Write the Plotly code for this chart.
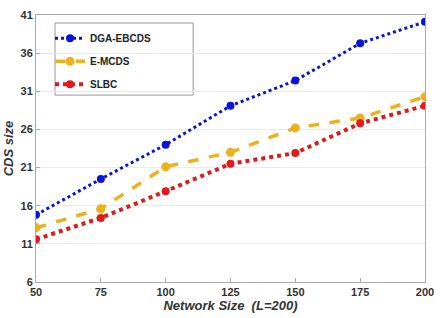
import plotly.graph_objects as go

network_size = [50, 75, 100, 125, 150, 175, 200]
dga_ebcds = [14.8, 19.5, 24.0, 29.1, 32.4, 37.3, 40.1]
e_mcds = [13.1, 15.6, 21.1, 23.0, 26.2, 27.5, 30.3]
slbc = [11.6, 14.4, 17.9, 21.5, 22.9, 26.8, 29.1]
y_ticks = [6, 11, 16, 21, 26, 31, 36, 41]

fig = go.Figure()
fig.add_trace(go.Scatter(x=network_size, y=dga_ebcds, name="<b>DGA-EBCDS</b>", mode="lines+markers",
                         line=dict(color="#0A14D8", width=3, dash="dot"),
                         marker=dict(symbol="circle", size=8, color="#0A14D8"), legendgroup="a"))
fig.add_trace(go.Scatter(x=network_size, y=e_mcds, name="<b>E-MCDS</b>", mode="lines+markers",
                         line=dict(color="#EDB120", width=3.5, dash="dash"),
                         marker=dict(symbol="circle", size=9, color="#EDB120"), legendgroup="b"))
fig.add_trace(go.Scatter(x=network_size, y=slbc, name="<b>SLBC</b>", mode="lines+markers",
                         line=dict(color="#E01B1B", width=4, dash="dot"),
                         marker=dict(symbol="circle", size=8, color="#E01B1B"), legendgroup="c"))

# legend frame
fig.add_shape(type="rect", xref="paper", yref="paper",
              x0=0.049, x1=0.404, y0=0.700, y1=0.970,
              line=dict(color="#999999", width=1), fillcolor="white", layer="below")

fig.update_layout(
    width=446, height=318,
    margin=dict(l=36, r=21, t=15, b=36, autoexpand=False),
    plot_bgcolor="white", paper_bgcolor="white",
    font=dict(family="Liberation Sans, Arial, sans-serif", size=11, color="#333333"),
    showlegend=True,
    legend=dict(x=0.036, y=0.967, xanchor="left", yanchor="top",
                borderwidth=0, bgcolor="rgba(0,0,0,0)",
                font=dict(size=10, color="#222222", family="Liberation Sans, Arial, sans-serif"),
                tracegroupgap=4, itemwidth=30),
)
fig.update_xaxes(range=[50, 200], tickvals=network_size, ticktext=[f"<b>{v}</b>" for v in network_size],
                 showgrid=False, showline=True, linecolor="#AAAAAA", mirror=True, automargin=False,
                 ticks="inside", ticklen=4, tickcolor="#AAAAAA", zeroline=False,
                 title=dict(text="<b><i>Network Size  (L=200)</i></b>", standoff=3, font=dict(size=13)))
fig.update_yaxes(range=[6, 41], tickvals=y_ticks, ticktext=[f"<b>{v}</b>" for v in y_ticks],
                 showgrid=True, gridcolor="#EBEBEB", showline=True, linecolor="#AAAAAA", mirror=True,
                 automargin=False,
                 ticks="inside", ticklen=4, tickcolor="#AAAAAA", zeroline=False,
                 title=dict(text="<b><i>CDS size</i></b>", standoff=3, font=dict(size=13)))

fig.write_html("out.html", config={"displayModeBar": False},
               post_script="document.body.style.margin='0';document.body.style.padding='0';")
